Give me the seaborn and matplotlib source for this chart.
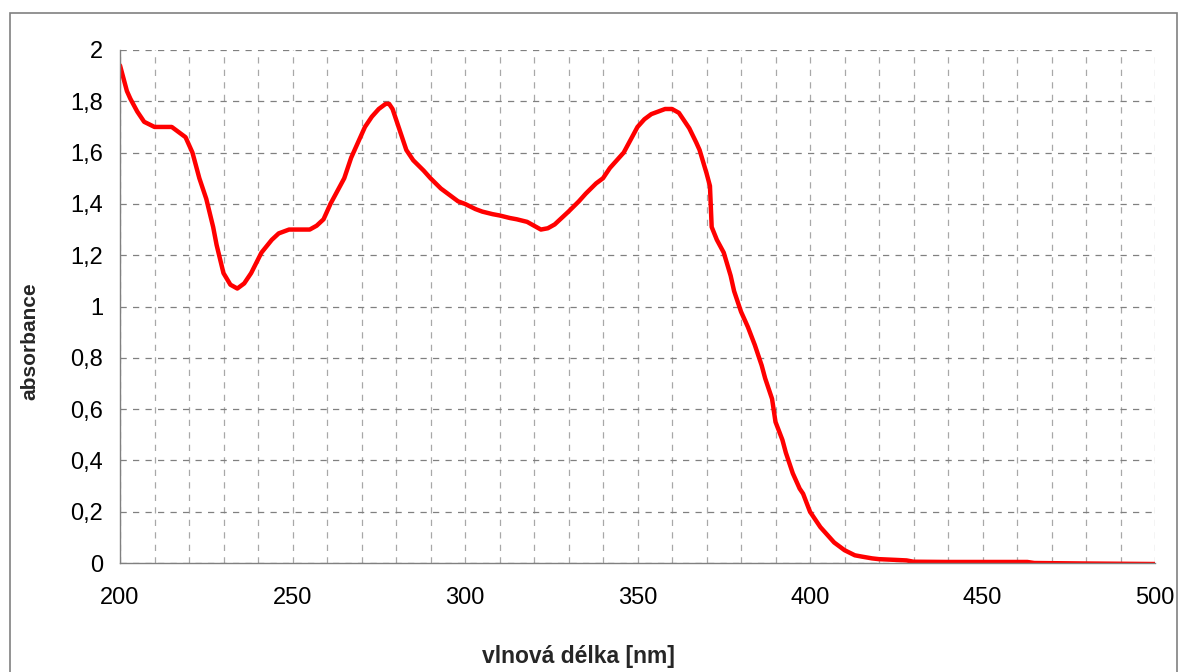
import matplotlib
matplotlib.use("Agg")
import matplotlib.pyplot as plt
import matplotlib.ticker as mticker
import seaborn as sns
import pandas as pd
from matplotlib.patches import Rectangle

# absorption spectrum
wavelength = [200, 201, 202, 203, 205, 207, 210, 213, 215, 217, 219, 221, 223, 225, 227, 228, 230,
              232, 234, 236, 238, 241, 244, 246, 249, 252, 255, 257, 259, 261, 263, 265, 267,
              269, 271, 273, 275, 277, 278, 279, 281, 283, 285, 288, 290, 293, 295, 298, 300,
              303, 305, 308, 310, 313, 315, 318, 320, 322, 324, 326, 328, 330, 333, 335, 338,
              340, 342, 344, 346, 348, 350, 352, 354, 356, 358, 360, 362, 363, 365, 367, 368,
              370, 371, 371.5, 373, 375, 377, 378, 380, 382, 384, 386, 387, 389, 390, 392, 393,
              395, 397, 398, 400, 402, 403, 405, 407, 410, 413, 415, 418, 420, 425, 428, 430,
              440, 450, 463, 465, 480, 500]
absorbance = [1.94, 1.89, 1.84, 1.81, 1.76, 1.72, 1.70, 1.70, 1.70, 1.68, 1.66, 1.60, 1.50, 1.42, 1.31,
              1.24, 1.13, 1.085, 1.07, 1.09, 1.13, 1.21, 1.26, 1.285, 1.30, 1.30, 1.30, 1.315, 1.34,
              1.40, 1.45, 1.50, 1.58, 1.64, 1.70, 1.74, 1.77, 1.79, 1.79, 1.77, 1.69, 1.61, 1.57,
              1.53, 1.50, 1.46, 1.44, 1.41, 1.40, 1.38, 1.37, 1.36, 1.355, 1.345, 1.34, 1.33,
              1.315, 1.30, 1.305, 1.32, 1.345, 1.37, 1.41, 1.44, 1.48, 1.50, 1.54, 1.57, 1.60,
              1.65, 1.70, 1.73, 1.75, 1.76, 1.77, 1.77, 1.755, 1.735, 1.695, 1.64, 1.61,
              1.52, 1.47, 1.31, 1.26, 1.21, 1.12, 1.06, 0.98, 0.92, 0.85, 0.77, 0.72, 0.64, 0.55,
              0.48, 0.43, 0.35, 0.29, 0.27, 0.20, 0.16, 0.14, 0.11, 0.08, 0.05, 0.03, 0.025,
              0.018, 0.015, 0.012, 0.01, 0.005, 0.004, 0.004, 0.004, 0.0, -0.002, -0.004]

y_ticks = [0, 0.2, 0.4, 0.6, 0.8, 1.0, 1.2, 1.4, 1.6, 1.8, 2.0]
x_ticks = [200, 250, 300, 350, 400, 450, 500]

df = pd.DataFrame({"vlnova_delka": wavelength, "absorbance": absorbance})

sns.set_style("white")
plt.rcParams["font.family"] = ["Liberation Sans", "DejaVu Sans"]

fig = plt.figure(figsize=(11.83, 6.72), dpi=100)
ax = fig.add_axes([120 / 1183, 1 - 563 / 672, 1035 / 1183, 513 / 672])

sns.lineplot(data=df, x="vlnova_delka", y="absorbance", color="#ff0000", linewidth=3.2, ax=ax)

ax.set_xlim(200, 500)
ax.set_ylim(0, 2)
ax.set_xticks(x_ticks)
ax.set_yticks(y_ticks)
ax.xaxis.set_minor_locator(mticker.MultipleLocator(10))
ax.yaxis.set_major_formatter(mticker.FuncFormatter(lambda v, p: ("%g" % v).replace(".", ",")))

ax.grid(which="major", axis="y", linestyle=(0, (5, 5)), color="#808080", linewidth=0.9)
ax.grid(which="both", axis="x", linestyle=(0, (5, 5)), color="#a8a8a8", linewidth=0.9)
ax.set_axisbelow(True)

for s in ["top", "right"]:
    ax.spines[s].set_visible(False)
for s in ["left", "bottom"]:
    ax.spines[s].set_color("#808080")
    ax.spines[s].set_linewidth(1.0)

ax.tick_params(axis="both", which="major", direction="out", length=5, color="#808080",
               labelsize=17, labelcolor="black")
ax.tick_params(axis="x", which="major", pad=12)
ax.tick_params(axis="y", which="major", pad=7)
ax.tick_params(axis="x", which="minor", length=0)

ax.set_xlabel("")
ax.set_ylabel("")
fig.text(578 / 1183, 1 - 657 / 672, "vlnová délka [nm]", ha="center", va="center",
         fontsize=16.5, fontweight="bold")
fig.text(30 / 1183, 1 - 341 / 672, "absorbance", ha="center", va="center",
         fontsize=15, fontweight="bold", rotation=90)

# outer chart frame
fig.patches.append(Rectangle((10 / 1183, -0.1), 1167 / 1183, 1.1 - 13 / 672,
                             transform=fig.transFigure, fill=False,
                             edgecolor="#808080", linewidth=1.2))

fig.savefig("out.png", dpi=100)
